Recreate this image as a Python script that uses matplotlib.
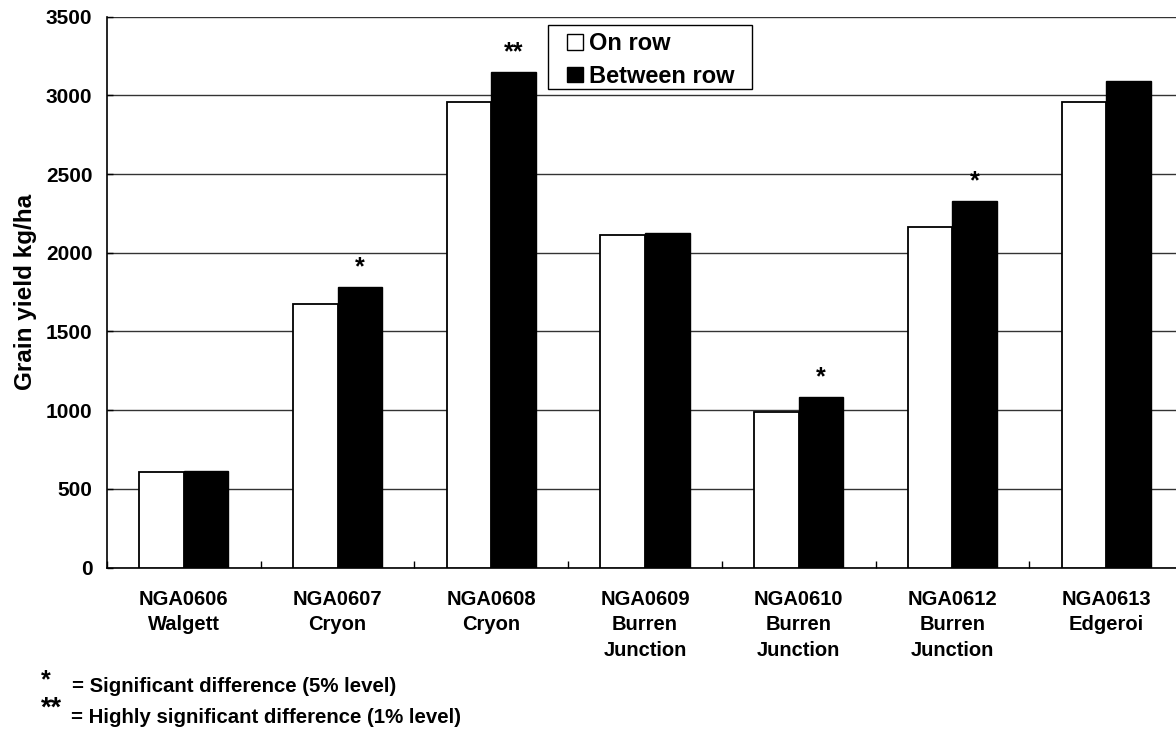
import matplotlib
matplotlib.use("Agg")
import matplotlib.pyplot as plt
import numpy as np
from matplotlib.patches import Patch, Rectangle
from matplotlib.legend_handler import HandlerPatch

plt.rcParams['font.family'] = ['Liberation Sans', 'DejaVu Sans']
plt.rcParams['font.weight'] = 'bold'

# Trial sites and grain yields (kg/ha)
sites = ["NGA0606\nWalgett", "NGA0607\nCryon", "NGA0608\nCryon",
         "NGA0609\nBurren\nJunction", "NGA0610\nBurren\nJunction",
         "NGA0612\nBurren\nJunction", "NGA0613\nEdgeroi"]
on_row = [610, 1674, 2957, 2112, 990, 2165, 2957]
between_row = [615, 1784, 3150, 2127, 1085, 2330, 3093]
significance = ["", "*", "**", "", "*", "*", ""]
y_ticks = [0, 500, 1000, 1500, 2000, 2500, 3000, 3500]

W, H = 1176, 729
fig = plt.figure(figsize=(W / 100, H / 100), dpi=100)
AX_L, AX_R, AX_T, AX_B = 107, 1183, 16.7, 567.5
ax = fig.add_axes([AX_L / W, 1 - AX_B / H, (AX_R - AX_L) / W, (AX_B - AX_T) / H])

x = np.arange(len(sites))
bw = 0.29
ax.bar(x - bw / 2, on_row, bw, color="white", edgecolor="black", linewidth=1.3, zorder=3)
ax.bar(x + bw / 2, between_row, bw, color="black", edgecolor="black", linewidth=1.0, zorder=3)

for xi, val, mark in zip(x, between_row, significance):
    if mark:
        ax.text(xi + bw / 2, val + 45, mark, ha="center", va="bottom",
                fontsize=18, fontweight="bold", zorder=4)

ax.set_xlim(-0.5, len(sites) - 0.5)
ax.set_ylim(0, 3500)
ax.set_yticks(y_ticks)
ax.set_yticklabels([str(v) for v in y_ticks])
ax.yaxis.grid(True, color="#333333", linewidth=1.0, zorder=0)
ax.set_axisbelow(True)

# Category boundaries carry the tick marks; names sit at the centres
ax.set_xticks(np.arange(len(sites) + 1) - 0.5)
ax.set_xticklabels([])
ax.set_xticks(x, minor=True)
ax.set_xticklabels(sites, minor=True, fontsize=14.5, fontweight="bold", linespacing=1.45)
ax.tick_params(axis="x", which="major", direction="in", length=5, width=1)
ax.tick_params(axis="x", which="minor", length=0, pad=16)
ax.tick_params(axis="y", direction="in", length=4, width=1, labelsize=15, pad=10.5)

for lab in ax.get_yticklabels():
    lab.set_fontweight("bold")

for side in ("top", "right"):
    ax.spines[side].set_visible(False)
ax.spines["left"].set_linewidth(1.2)
ax.spines["bottom"].set_linewidth(1.2)

ax.set_ylabel("Grain yield kg/ha", fontsize=17.5, fontweight="bold")
ax.yaxis.set_label_coords(-(AX_L - 37) / (AX_R - AX_L), 0.5)


def small_square(legend, orig_handle, xdescent, ydescent, width, height, fontsize):
    side = 0.66 * fontsize
    return Rectangle((-xdescent + width - side, -ydescent + (height - side) / 2), side, side)


# Legend box drawn as its own rectangle so its padding can be set exactly
frame = Rectangle((548 / W, 1 - 89 / H), 204 / W, 64.3 / H, transform=fig.transFigure,
                  facecolor="white", edgecolor="black", linewidth=1.0, zorder=4.5,
                  clip_on=False)
ax.add_patch(frame)

handles = [Patch(facecolor="white", edgecolor="black", linewidth=1.0, label="On row"),
           Patch(facecolor="black", edgecolor="black", label="Between row")]
leg = ax.legend(handles=handles, loc="upper left",
                bbox_to_anchor=((567 - AX_L) / (AX_R - AX_L), 1 - (32.0 - AX_T) / (AX_B - AX_T)),
                prop={"size": 17, "weight": "bold"}, frameon=False,
                handlelength=0.66, handleheight=0.7,
                handletextpad=0.27, labelspacing=0.42, borderpad=0, borderaxespad=0,
                handler_map={Patch: HandlerPatch(patch_func=small_square)})
leg.set_zorder(5)

# Significance key below the chart
fig.text(41 / W, 1 - 680 / H, "*", fontsize=18, fontweight="bold", va="center", ha="left")
fig.text(72 / W, 1 - 687 / H, "= Significant difference (5% level)", fontsize=14.7,
         fontweight="bold", va="center", ha="left")
fig.text(41 / W, 1 - 708.5 / H, "**", fontsize=19.5, fontweight="bold", va="center", ha="left")
fig.text(71 / W, 1 - 717.5 / H, "= Highly significant difference (1% level)", fontsize=14.7,
         fontweight="bold", va="center", ha="left")

fig.savefig("out.png", dpi=100)
